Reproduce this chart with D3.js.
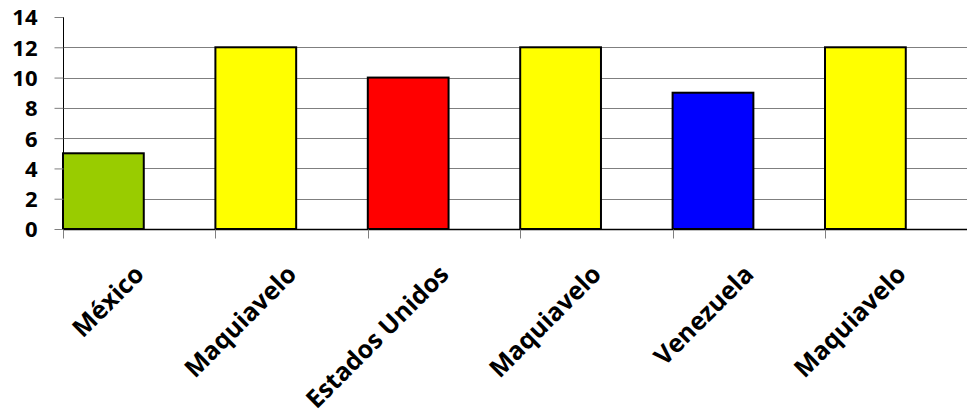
<!DOCTYPE html>
<html>
<head>
<meta charset="utf-8">
<script src="https://cdn.jsdelivr.net/npm/d3@7"></script>
<style>
  body { margin: 0; background: #fff; }
  svg { display: block; }
  .axis text { font-family: "Open Sans", "DejaVu Sans", sans-serif; font-weight: bold; fill: #000; }
</style>
</head>
<body>
<svg width="967" height="414"></svg>
<script>
var categories = ["México", "Maquiavelo", "Estados Unidos", "Maquiavelo", "Venezuela", "Maquiavelo"];
var values = [5, 12, 10, 12, 9, 12];
var barColors = ["#99CC00", "#FFFF00", "#FF0000", "#FFFF00", "#0000FF", "#FFFF00"];
var yTicks = [0, 2, 4, 6, 8, 10, 12, 14];

var svg = d3.select("svg");
var plotLeft = 63, plotTop = 17, plotBottom = 229;
var bandW = 152.4;

var x = d3.scaleBand()
    .domain(d3.range(categories.length))
    .range([plotLeft, plotLeft + bandW * categories.length])
    .paddingInner(0).paddingOuter(0);

var y = d3.scaleLinear().domain([0, 14]).range([plotBottom, plotTop]);

// gridlines
svg.append("g")
    .selectAll("line")
    .data(yTicks.filter(t => t > 0 && t < 14))
    .enter().append("line")
    .attr("x1", plotLeft).attr("x2", 967)
    .attr("y1", d => Math.round(y(d)) + 0.5).attr("y2", d => Math.round(y(d)) + 0.5)
    .attr("stroke", "#7f7f7f").attr("stroke-width", 1);

// bars
var barW = bandW * 0.53;
svg.append("g")
    .selectAll("rect")
    .data(values)
    .enter().append("rect")
    .attr("x", (d, i) => x(i))
    .attr("y", d => y(d))
    .attr("width", barW)
    .attr("height", d => plotBottom - y(d))
    .attr("fill", (d, i) => barColors[i])
    .attr("stroke", "#000")
    .attr("stroke-width", 2);

// y axis
var yAxis = svg.append("g")
    .attr("class", "axis")
    .attr("transform", "translate(" + (plotLeft + 0.5) + ",0)")
    .call(d3.axisLeft(y).tickValues(yTicks).tickSize(9).tickPadding(17).tickFormat(d3.format("d")));
yAxis.select(".domain").attr("stroke", "#000").attr("d", "M0," + plotTop + "V" + (plotBottom + 0.5));
yAxis.selectAll(".tick line").attr("stroke", "#7f7f7f");
yAxis.selectAll("text").style("font-size", "22px").attr("dy", "0.36em");

// x axis
var xAxis = svg.append("g")
    .attr("class", "axis")
    .attr("transform", "translate(0," + (plotBottom + 0.5) + ")");
xAxis.append("line")
    .attr("x1", plotLeft).attr("x2", 967)
    .attr("stroke", "#000").attr("stroke-width", 1.5);
xAxis.selectAll(".cat-tick")
    .data(d3.range(categories.length))
    .enter().append("line")
    .attr("class", "cat-tick")
    .attr("x1", i => Math.round(x(i)) + 0.5).attr("x2", i => Math.round(x(i)) + 0.5)
    .attr("y1", 0).attr("y2", 9)
    .attr("stroke", "#7f7f7f");
xAxis.selectAll("text")
    .data(categories)
    .enter().append("text")
    .attr("transform", (d, i) => "translate(" + (x(i) + bandW / 2 - 6) + ",34) rotate(-45)")
    .attr("text-anchor", "end")
    .attr("dy", "0.7em")
    .style("font-size", "25px")
    .text(d => d);
</script>
</body>
</html>
